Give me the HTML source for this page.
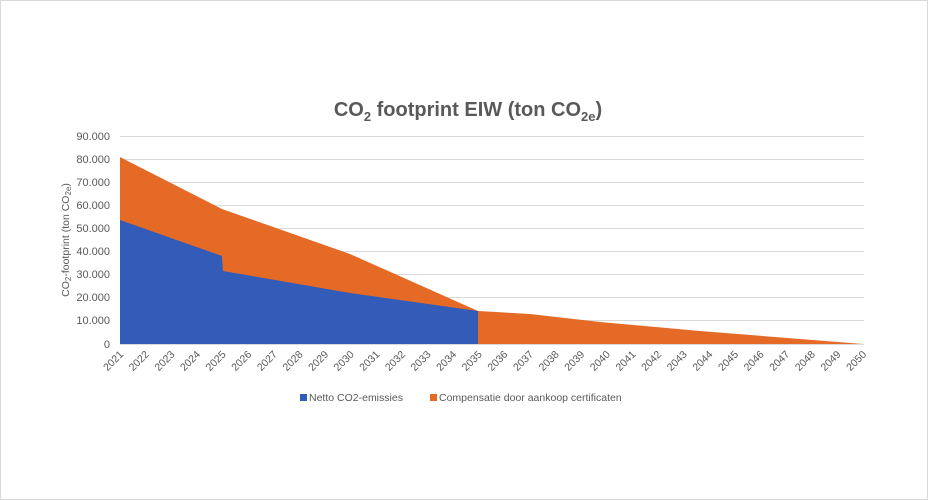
<!DOCTYPE html>
<html><head><meta charset="utf-8"><style>
body{margin:0;background:#fff;}
svg{display:block;font-family:"Liberation Sans",sans-serif;}
</style></head><body>
<svg width="928" height="500" viewBox="0 0 928 500">
<rect x="0.5" y="0.5" width="927" height="499" fill="#fff" stroke="#d9d9d9"/>
<text x="468" y="116" text-anchor="middle" font-size="20" font-weight="bold" fill="#595959">CO<tspan font-size="13" dy="5">2</tspan><tspan dy="-5"> footprint EIW (ton CO</tspan><tspan font-size="13" dy="5">2e</tspan><tspan dy="-5">)</tspan></text>
<g stroke="#d9d9d9" stroke-width="1">
<line x1="120" x2="864" y1="136.5" y2="136.5"/><line x1="120" x2="864" y1="159.5" y2="159.5"/>
<line x1="120" x2="864" y1="182.5" y2="182.5"/><line x1="120" x2="864" y1="205.5" y2="205.5"/>
<line x1="120" x2="864" y1="228.5" y2="228.5"/><line x1="120" x2="864" y1="251.5" y2="251.5"/>
<line x1="120" x2="864" y1="274.5" y2="274.5"/><line x1="120" x2="864" y1="297.5" y2="297.5"/>
<line x1="120" x2="864" y1="320.5" y2="320.5"/>
</g>
<polygon fill="#e46a26" points="120,157 222,209 350,254 478,311 530,314 600,322 700,331 800,339 863,344 120,344"/>
<polygon fill="#335bb8" points="120,220 222,256 222,257 223,271 350,293 478,311 478,344 120,344"/>
<line x1="120" x2="864" y1="344.5" y2="344.5" stroke="#d9d9d9"/>
<g font-size="11" fill="#595959" text-anchor="end">
<text x="110" y="140">90.000</text><text x="110" y="163">80.000</text><text x="110" y="186">70.000</text>
<text x="110" y="209">60.000</text><text x="110" y="232">50.000</text><text x="110" y="255">40.000</text>
<text x="110" y="278">30.000</text><text x="110" y="301">20.000</text><text x="110" y="324">10.000</text>
<text x="110" y="348">0</text>
</g>
<text transform="translate(69,240) rotate(-90)" text-anchor="middle" font-size="10.5" fill="#595959">CO<tspan font-size="8" dy="2">2</tspan><tspan dy="-2">-footprint (ton CO</tspan><tspan font-size="8" dy="2">2e</tspan><tspan dy="-2">)</tspan></text>
<g id="xl" font-size="10.5" fill="#595959" text-anchor="end"></g>
<rect x="300" y="394" width="7" height="7" fill="#335bb8"/>
<text x="309" y="401" font-size="10.5" fill="#595959">Netto CO2-emissies</text>
<rect x="430" y="394" width="7" height="7" fill="#e46a26"/>
<text x="439" y="401" font-size="10.5" fill="#595959">Compensatie door aankoop certificaten</text>
</svg>
<script>
var g=document.getElementById('xl'),s='';
for(var i=0;i<30;i++){var x=120+i*25.62;
s+='<text transform="translate('+(x+4)+',355) rotate(-45)">'+(2021+i)+'</text>';}
g.innerHTML=s;
</script>
</body></html>
